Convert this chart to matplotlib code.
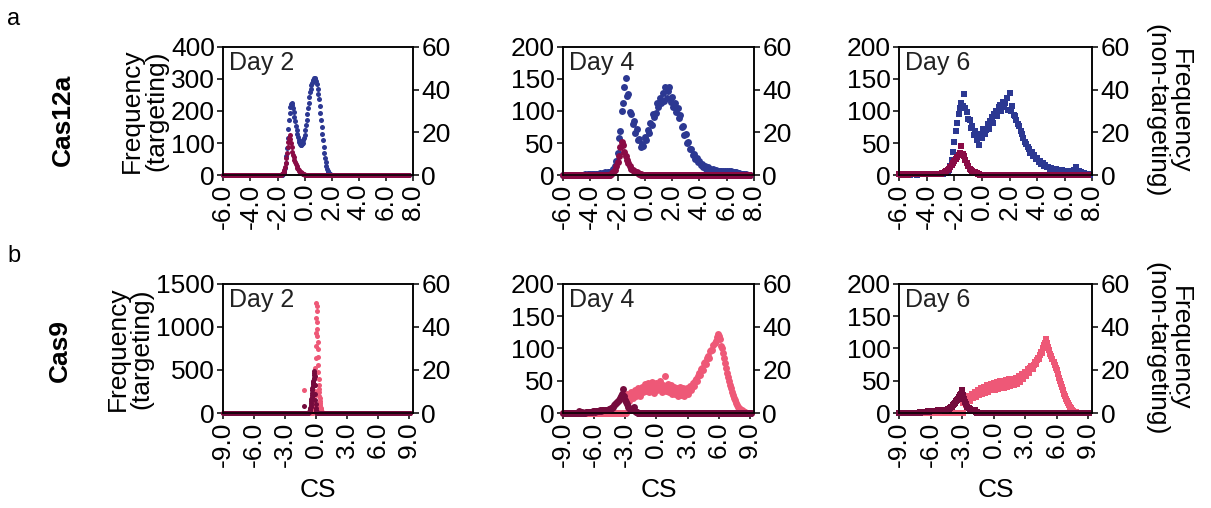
import numpy as np
import matplotlib
matplotlib.use("Agg")
import matplotlib.pyplot as plt

plt.rcParams['font.family'] = ['Liberation Sans', 'DejaVu Sans']
plt.rcParams['axes.unicode_minus'] = False

BLUE = '#2C3892'
MAROON = '#8A0B45'
PINK = '#EE5877'
DARK = '#750B3D'

# ---- Cas12a ----
# day 2 (step 0.05)
c12_d2_t_start = -1.60
c12_d2_t = [3, 6, 12, 22, 38, 58, 85, 115, 145, 172, 195, 212, 222, 226, 220, 208, 196,
            182, 168, 152, 140, 128, 118, 110, 104, 98, 95, 93, 96, 100, 108, 116, 126,
            140, 156, 172, 190, 208, 226, 244, 258, 270, 280, 288, 294, 298, 302, 304,
            300, 294, 284, 270, 254, 236, 216, 195, 172, 150, 128, 108, 88, 70, 54, 40,
            29, 20, 13, 8, 5, 3, 2, 1, 0]
c12_d2_nt_start = -1.70
c12_d2_nt = [0.3, 0.6, 1, 1.6, 2.5, 3.8, 5.5, 8, 10.5, 13, 15.5, 17.5, 18.8, 17, 15, 13,
             11, 9.5, 8.5, 7, 6, 5, 4, 3.3, 2.7, 2.2, 1.8, 1.5, 1.2, 1, 0.8, 0.6, 0.4,
             0.3, 0.2]

# day 4 (step 0.1)
c12_d4_t_start = -4.5
c12_d4_t = [0, 1, 0, 1, 1, 1, 2, 1, 2, 1, 2, 2, 3, 2, 3, 3, 4, 3, 4, 5, 5, 7, 9, 14, 22,
            35, 58, 68, 100, 112, 138, 152, 124, 126, 98, 96, 80, 84, 66, 72, 55, 56, 43,
            49, 46, 60, 54, 70, 66, 81, 78, 95, 91, 97, 112, 106, 121, 112, 128, 116,
            137, 120, 131, 138, 114, 122, 106, 113, 98, 104, 89, 93, 75, 77, 62, 64, 50,
            52, 40, 41, 32, 33, 25, 27, 20, 22, 16, 17, 13, 14, 10, 12, 9, 10, 7, 9,
            8, 8, 7, 7, 6, 6, 6, 5, 6, 6, 5, 6, 6, 5, 5, 4, 4, 3, 3, 2, 2, 1, 1, 1, 0]
c12_d4_nt_start = -2.5
c12_d4_nt = [0.5, 0.8, 1.5, 2.5, 4, 6, 9, 13, 15.5, 14, 11, 9, 7, 5.5, 4, 3, 2.5, 2, 1.5,
             1.2, 0.8, 0.5, 0.3]

# day 6 (step 0.1)
c12_d6_t_start = -6.0
c12_d6_t = [1, 0, 1, 1, 0, 1, 1, 1, 0, 1, 1, 1, 1, 0, 1, 1, 1, 1, 1, 1, 1, 1, 1, 2, 1, 1,
            2, 1, 2, 2, 2, 2, 2, 3, 3,
            4, 8, 14, 24, 36, 52, 68, 82, 96, 104, 112, 108, 126, 104, 98, 88, 86, 74, 76,
            62, 68, 55, 60, 47, 64, 58, 72, 64, 70, 80, 72, 85, 90, 82, 96, 100, 92, 106,
            110, 100, 114, 106, 112, 120, 102, 128, 100, 108, 94, 92, 86, 80, 76, 68, 64,
            58, 52, 49, 44, 40, 35, 36, 29, 31, 25, 26, 21, 22, 17, 18, 14, 15, 12, 13,
            10, 11, 9, 10, 8, 9, 8, 8, 7, 8, 7, 7, 6, 7, 6, 7, 6, 7, 8, 12, 7, 6, 5, 4,
            3, 3, 2, 1, 1, 0]
c12_d6_nt_start = -6.0
c12_d6_nt = [0.3, 0.2, 0.3, 0.2, 0.3, 0.3, 0.2, 0.3, 0.4, 0.3, 0.3, 0.4, 0.3, 0.4, 0.4,
             0.3, 0.4, 0.5, 0.4, 0.5, 0.4, 0.5, 0.5, 0.4, 0.5, 0.5, 0.6, 0.5, 0.6, 0.5,
             0.6, 0.8, 1, 1.3, 1.8, 2.3, 3, 3.8, 4.5, 5.5, 6.5, 7.5, 8.5, 9.5, 10.5,
             13.5, 10, 9, 7, 5.5, 4, 3, 2.5, 2, 1.5, 1.2, 0.8, 0.5, 0.3]

# ---- Cas9 ----
# day 2 (step 0.02)
c9_d2_t_start = -0.30
c9_d2_t = [20, 30, 45, 60, 80, 110, 150, 200, 260, 330, 420, 520, 640, 780, 930, 1100,
           1280, 1240, 1180, 1060, 980, 900, 820, 740, 650, 560, 480, 400, 330, 280, 240,
           200, 170, 140, 115, 95, 75, 60, 45, 35, 25, 18, 12, 8, 4, 2]
c9_d2_t_extra_cs = [-1.22]
c9_d2_t_extra = [265]
c9_d2_nt_start = -0.70
c9_d2_nt = [0.3, 0.5, 0.6, 0.8, 1, 1.3, 1.8, 2.3, 3, 3.6, 4.5, 5.5, 6.5, 7.5, 8.5, 9.5,
            10.5, 11.5, 12.5, 13.5, 14, 14.5, 15, 16, 16.5, 17.5, 18.5, 19.6, 17, 13,
            9, 6, 4, 2.5, 1.5, 1, 0.6, 0.4, 0.3, 0.2, 0.1]
c9_d2_nt_extra_cs = [-1.2]
c9_d2_nt_extra = [3.2]

# day 4 (step 0.1)
c9_d4_t_start = -2.9
c9_d4_t = [22, 30, 25, 19, 28, 33, 24, 29, 36, 27, 31, 38, 30, 26, 35, 41, 32, 37, 45,
           34, 39, 47, 33, 42, 36, 48, 38, 31, 43, 46, 35, 40, 49, 37, 33, 44, 39, 57,
           34, 41, 45, 32, 38, 43, 30, 36, 41, 29, 34, 39, 27, 33, 40, 28, 31, 38, 26,
           34, 39, 29, 36, 42, 35, 40, 46, 42, 50, 53, 49, 58, 62, 59, 68, 70, 67, 77,
           79, 76, 86, 88, 86, 96, 98, 97, 106, 108, 112, 118, 122, 119, 114, 104, 100,
           93, 86, 78, 70, 62, 56, 50, 44, 38, 33, 28, 24, 20, 16, 13, 10, 8, 6, 4, 3,
           2, 1, 0]
c9_d4_nt_start = -7.5
c9_d4_nt = [1, 0, 0, 0.3, 0, 0, 0, 0.4, 0.3, 0.5, 0.3, 0.5, 0.6, 0.5, 0.7, 0.8, 0.6, 0.9,
            1, 0.8, 1.1, 1.2, 1, 1.3, 1.4, 1.2, 1.5, 1.4,
            1.5, 1.8, 2, 2.5, 2.5, 3, 3.5, 4, 4.5, 5, 5.5, 6, 7, 8, 9, 11, 8, 6, 5, 4, 3,
            2.5, 2, 1.5, 1.2, 3, 0.8, 0.5, 0.3, 0.2]

# day 6 (step 0.1)
c9_d6_t_start = -2.9
c9_d6_t = [15, 22, 18, 13, 24, 27, 19, 23, 30, 24, 28, 33, 25, 30, 36, 28, 33, 38, 30,
           35, 41, 31, 37, 43, 33, 39, 45, 35, 40, 46, 36, 42, 48, 37, 43, 50, 38, 44,
           49, 39, 45, 51, 40, 46, 52, 42, 47, 53, 43, 49, 55, 45, 51, 57, 48, 54, 60,
           52, 58, 64, 57, 63, 68, 62, 69, 73, 68, 75, 79, 76, 82, 86, 84, 90, 94, 93,
           100, 105, 108, 114, 108, 102, 97, 92, 88, 84, 79, 75, 70, 66, 60, 55, 50, 45,
           40, 35, 30, 26, 22, 19, 15, 12, 9, 7, 5, 3, 2, 1, 0]
c9_d6_nt_start = -7.0
c9_d6_nt = [0.3, 0.4, 0.3, 0.5, 0.4, 0.6, 0.5, 0.7, 0.6, 0.8, 0.7, 0.9, 0.8, 1, 0.9, 1.1,
            1, 1.2, 1.1, 1.3, 1.2, 1.4, 1.3, 1.5, 1.4,
            1.5, 2, 1.8, 2.5, 2.8, 3, 3.5, 4, 4.8, 5.5, 6, 6.5, 7.5, 8.5, 9, 10.5, 8.5,
            6.5, 5, 4, 3, 2.5, 2, 1.6, 1.3, 1, 0.8, 1.5, 0.5, 0.3]

days = ['Day 2', 'Day 4', 'Day 6']


def series(start, step, vals, lo, hi, extra_cs=(), extra=()):
    cs = start + step * np.arange(len(vals))
    base = np.arange(lo, hi + 1e-9, 0.05)
    base = base[(base < cs[0] - 1e-9) | (base > cs[-1] + 1e-9)]
    x = np.concatenate([base, cs, np.array(extra_cs, float)])
    y = np.concatenate([np.zeros(len(base)), np.array(vals, float), np.array(extra, float)])
    return x, y


fig = plt.figure(figsize=(12.11, 5.08), dpi=100)

lefts = [0.1844, 0.4649, 0.7426]
widths = [0.1567, 0.1577, 0.1594]
bottoms = [0.6555, 0.187]
heights = [0.252, 0.254]

rows = [
    dict(t=[(c12_d2_t_start, 0.05, c12_d2_t, (), ()),
            (c12_d4_t_start, 0.1, c12_d4_t, (), ()),
            (c12_d6_t_start, 0.1, c12_d6_t, (), ())],
         nt=[(c12_d2_nt_start, 0.05, c12_d2_nt, (), ()),
             (c12_d4_nt_start, 0.1, c12_d4_nt, (), ()),
             (c12_d6_nt_start, 0.1, c12_d6_nt, (), ())],
         tc=BLUE, ntc=MAROON, xlim=(-6, 8), xt=np.arange(-6, 8.1, 2),
         ylims=[400, 200, 200], ysteps=[100, 50, 50]),
    dict(t=[(c9_d2_t_start, 0.02, c9_d2_t, c9_d2_t_extra_cs, c9_d2_t_extra),
            (c9_d4_t_start, 0.1, c9_d4_t, (), ()),
            (c9_d6_t_start, 0.1, c9_d6_t, (), ())],
         nt=[(c9_d2_nt_start, 0.02, c9_d2_nt, c9_d2_nt_extra_cs, c9_d2_nt_extra),
             (c9_d4_nt_start, 0.1, c9_d4_nt, (), ()),
             (c9_d6_nt_start, 0.1, c9_d6_nt, (), ())],
         tc=PINK, ntc=DARK, xlim=(-9, 9.4), xt=np.arange(-9, 9.1, 3),
         ylims=[1500, 200, 200], ysteps=[500, 50, 50]),
]

for r, row in enumerate(rows):
    for c in range(3):
        ax = fig.add_axes([lefts[c], bottoms[r], widths[c], heights[r]])
        ax2 = ax.twinx()
        mk = 's' if c == 2 else 'o'
        ms = 3.6 if c == 0 else 5.0
        if mk == 's':
            ms = 4.3
        lo, hi = row['xlim'][0], row['xlim'][1] - 0.3
        start, step, vals, ecs, ev = row['t'][c]
        x, y = series(start, step, vals, lo, hi, ecs, ev)
        ax.plot(x, y, ls='none', marker=mk, ms=ms, mew=0, color=row['tc'], clip_on=False)
        start, step, vals, ecs, ev = row['nt'][c]
        x, y = series(start, step, vals, lo, hi, ecs, ev)
        ax2.plot(x, y, ls='none', marker=mk, ms=ms, mew=0, color=row['ntc'], clip_on=False)

        ax.set_xlim(*row['xlim'])
        ax.set_ylim(0, row['ylims'][c])
        ax.set_yticks(np.arange(0, row['ylims'][c] + 1, row['ysteps'][c]))
        ax2.set_ylim(0, 60)
        ax2.set_yticks([0, 20, 40, 60])
        ax.set_xticks(row['xt'])
        ax.set_xticklabels(['%.1f' % v for v in row['xt']], rotation=90)
        for a in (ax, ax2):
            a.tick_params(labelsize=19, width=1.1, length=4, pad=2)
            for s in a.spines.values():
                s.set_linewidth(1.1)
        ax.text(0.03, 0.97, days[c], transform=ax.transAxes, fontsize=18,
                ha='left', va='top', color='#222222')
        if c == 0:
            ax.set_ylabel('Frequency\n(targeting)', fontsize=19, labelpad=2,
                          linespacing=1.0)
        if c == 2:
            ax2.set_ylabel('Frequency\n(non-targeting)', fontsize=19, rotation=270,
                           va='bottom', labelpad=10, linespacing=1.0)
        if r == 1:
            ax.set_xlabel('CS', fontsize=19, labelpad=8)

fig.text(0.006, 0.963, 'a', fontsize=17, va='center')
fig.text(0.006, 0.496, 'b', fontsize=17, va='center')
fig.text(0.052, 0.764, 'Cas12a', fontsize=19, fontweight='bold', rotation=90,
         ha='center', va='center')
fig.text(0.0495, 0.311, 'Cas9', fontsize=19, fontweight='bold', rotation=90,
         ha='center', va='center')

fig.savefig('out.png', dpi=100)
